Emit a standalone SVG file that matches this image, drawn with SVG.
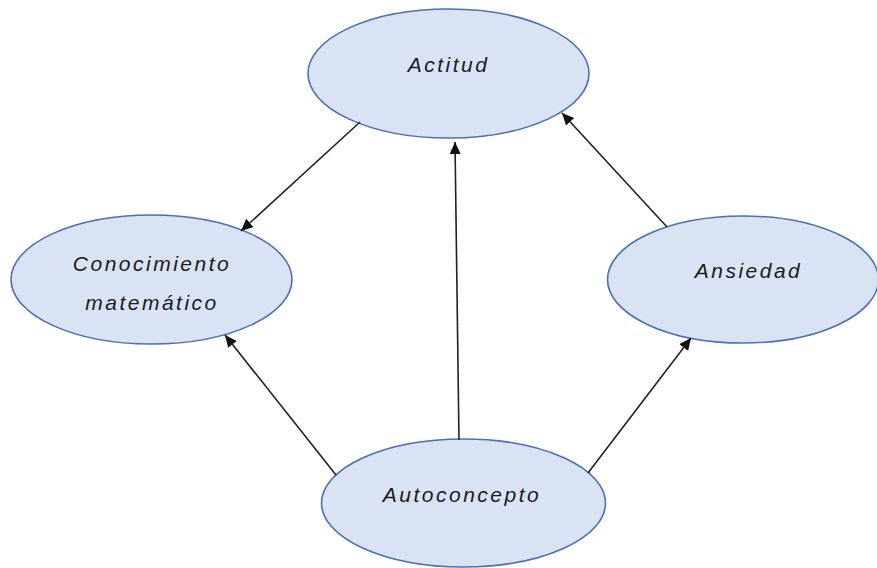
<svg xmlns="http://www.w3.org/2000/svg" width="877" height="568" viewBox="0 0 877 568">
<style>
.node ellipse{fill:#dae3f3;stroke:#4a70b0;stroke-width:1.6}
.node text{font-family:"Liberation Sans",Arial,sans-serif;font-style:italic;font-size:21px;letter-spacing:2.5px;fill:#1a1a1a;text-anchor:middle}
.edges line{stroke:#222;stroke-width:1.6;marker-end:url(#arr)}
</style>
<defs>
<marker id="arr" markerUnits="userSpaceOnUse" markerWidth="13" markerHeight="12" refX="12" refY="5.5" orient="auto">
<path d="M0,0 L12,5.5 L0,11 z" fill="#111"/>
</marker>
</defs>
<rect width="877" height="568" fill="#fff"/>
<g id="actitud" class="node">
<ellipse cx="448.5" cy="73.5" rx="140.5" ry="64.5"/>
<text x="448.5" y="72">Actitud</text>
</g>
<g id="conocimiento" class="node">
<ellipse cx="151.5" cy="279.5" rx="140.5" ry="64.5"/>
<text x="152" y="271">Conocimiento</text>
<text x="152" y="310">matemático</text>
</g>
<g id="ansiedad" class="node">
<ellipse cx="743" cy="279.5" rx="135.5" ry="63.5"/>
<text x="748.5" y="278">Ansiedad</text>
</g>
<g id="autoconcepto" class="node">
<ellipse cx="463.5" cy="503" rx="142" ry="64"/>
<text x="462" y="502">Autoconcepto</text>
</g>
<g id="connectors" class="edges">
<line x1="360" y1="122" x2="241" y2="231"/>
<line x1="459" y1="440" x2="455" y2="142"/>
<line x1="667" y1="227" x2="562" y2="113"/>
<line x1="336" y1="475" x2="225" y2="335"/>
<line x1="588" y1="473" x2="691" y2="338"/>
</g>
</svg>
